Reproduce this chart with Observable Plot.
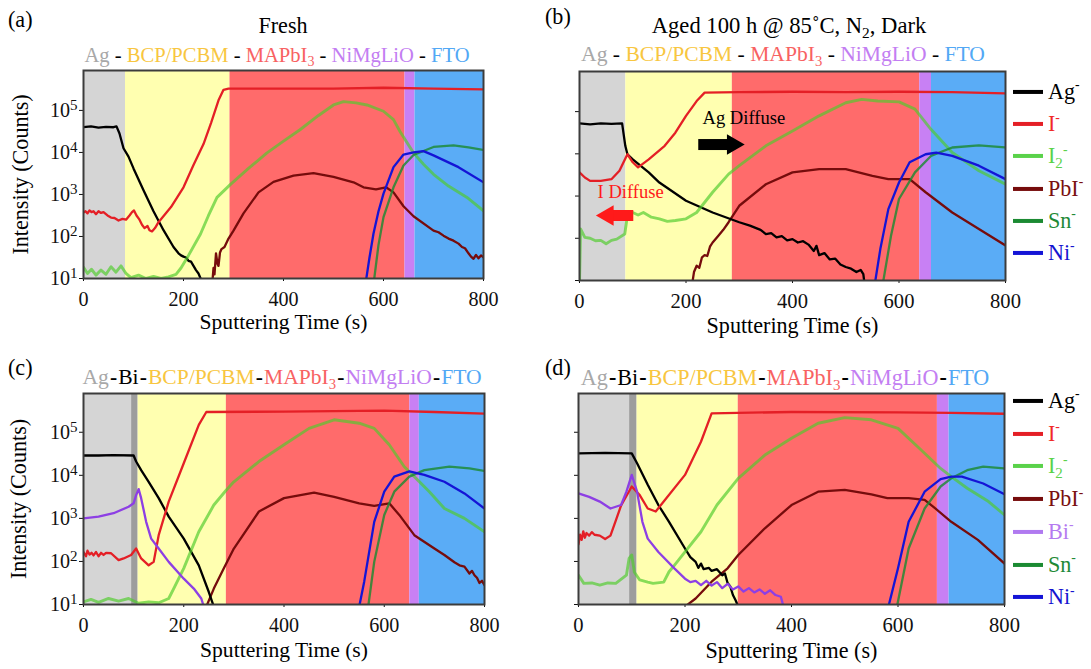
<!DOCTYPE html>
<html><head><meta charset="utf-8">
<script src="https://cdn.jsdelivr.net/npm/d3@7"></script>
<script src="https://cdn.jsdelivr.net/npm/@observablehq/plot@0.6"></script>
<style>
html,body{margin:0;padding:0;background:#fff;}
#root{position:relative;width:1091px;height:669px;overflow:hidden;color:#000;}
.t{position:absolute;white-space:nowrap;line-height:1;}
.p{position:absolute;}
.p svg{overflow:visible;}
sup.m{font-size:0.62em;vertical-align:0;position:relative;top:-0.7em;}
sub.s{font-size:0.68em;vertical-align:0;position:relative;top:0.32em;}
.lg{position:absolute;left:1013px;display:flex;align-items:center;line-height:1;white-space:nowrap;transform:translateY(-50%);}
.lg .ln{width:30px;height:4px;margin-right:5px;flex:none;}
.dash{color:#000;}
</style></head>
<body><div id="root"></div>
<script>
// ---------- data: sputtering time (s), log10(intensity counts) ----------
const xTicks = [0, 200, 400, 600, 800];
const yTicks = [1e1, 1e2, 1e3, 1e4, 1e5];

// layer bands [layer, start (s), end (s)]
const layersA = [["Ag",0,84],["BCP",84,293],["MAP",293,643],["NiO",643,663],["FTO",663,800]];
const layersB = [["Ag",0,87],["BCP",87,287],["MAP",287,639],["NiO",639,661],["FTO",661,800]];
const layersC = [["Ag",0,96],["Bi",96,109],["BCP",109,285],["MAP",285,651],["NiO",651,670],["FTO",670,800]];
const layersD = [["Ag",0,96],["Bi",96,110],["BCP",110,300],["MAP",300,674],["NiO",674,696],["FTO",696,800]];

// (a) Fresh
const aAg = [[0,4.6],[15,4.62],[30,4.59],[45,4.61],[60,4.6],[66,4.62],[72,4.45],[80,4.1],[90,3.9],[100,3.62],[120,3.1],[140,2.6],[160,2.15],[180,1.75],[190,1.6],[195,1.55],[200,1.52],[205,1.5],[210,1.42],[215,1.4],[220,1.3],[225,1.2],[230,1.12],[236,0.95]];
const aI = [[0,2.57],[4,2.6],[8,2.55],[12,2.62],[16,2.58],[20,2.6],[25,2.53],[30,2.6],[35,2.56],[40,2.58],[48,2.5],[55,2.45],[62,2.44],[70,2.38],[78,2.42],[85,2.4],[92,2.5],[97,2.58],[101,2.62],[106,2.5],[112,2.4],[117,2.28],[122,2.2],[128,2.25],[132,2.15],[137,2.12],[143,2.2],[150,2.34],[175,2.7],[200,3.17],[220,3.7],[240,4.2],[255,4.7],[270,5.24],[280,5.49],[290,5.52],[400,5.52],[500,5.52],[600,5.54],[700,5.52],[800,5.5]];
const aI2 = [[0,1.27],[8,1.12],[16,1.22],[25,1.08],[35,1.2],[45,1.1],[55,1.28],[65,1.15],[75,1.3],[85,1.12],[95,1.02],[110,1.08],[125,1.0],[140,1.05],[155,1.0],[170,1.04],[185,1.1],[195,1.25],[210,1.55],[234,2.06],[250,2.5],[267,2.93],[294,3.24],[330,3.62],[367,3.99],[400,4.27],[433,4.54],[470,4.88],[500,5.13],[520,5.21],[545,5.18],[567,5.13],[600,4.98],[620,4.78],[633,4.5],[660,3.99],[680,3.72],[700,3.48],[730,3.2],[767,2.93],[800,2.61]];
const aPbI = [[258,0.95],[260,1.25],[262,1.1],[265,1.6],[268,1.35],[270,1.3],[273,1.62],[276,1.7],[282,1.75],[290,1.95],[300,2.14],[320,2.55],[350,3.05],[380,3.3],[420,3.45],[460,3.51],[500,3.42],[540,3.29],[560,3.17],[585,3.12],[605,3.17],[620,3.05],[640,2.72],[660,2.48],[700,2.14],[710,2.1],[720,2.02],[730,1.95],[740,1.9],[750,1.83],[757,1.75],[763,1.72],[770,1.6],[775,1.52],[780,1.47],[785,1.56],[790,1.48],[795,1.55],[800,1.5]];
const aNi = [[565,0.95],[572,1.5],[580,2.07],[590,2.6],[600,3.02],[620,3.65],[640,3.95],[660,4.0],[680,4.03],[700,3.93],[750,3.65],[800,3.29]];
const aSn = [[581,0.95],[590,1.8],[600,2.46],[620,3.17],[640,3.69],[660,3.94],[700,4.13],[740,4.17],[770,4.12],[800,4.06]];

// (b) Aged 100 h
const bAg = [[0,4.72],[20,4.7],[40,4.72],[60,4.71],[80,4.72],[86,4.19],[90,3.99],[100,3.87],[130,3.56],[150,3.32],[200,2.89],[250,2.61],[300,2.38],[320,2.3],[340,2.2],[350,2.1],[360,2.12],[370,2.02],[380,2.05],[390,1.95],[400,1.98],[410,1.9],[420,1.93],[430,1.85],[440,1.7],[445,1.82],[450,1.6],[460,1.65],[470,1.5],[480,1.52],[490,1.38],[500,1.32],[510,1.28],[520,1.2],[528,1.25],[533,1.15],[535,0.95]];
const bI = [[0,3.56],[10,3.44],[20,3.36],[40,3.36],[60,3.4],[75,3.6],[90,3.99],[100,3.8],[110,3.68],[130,3.87],[160,4.19],[180,4.5],[200,4.9],[220,5.25],[235,5.45],[300,5.46],[400,5.47],[500,5.46],[600,5.47],[700,5.46],[800,5.43]];
const bI2 = [[0,0.95],[2,2.22],[10,2.02],[20,2.0],[30,1.94],[40,1.95],[50,1.87],[60,1.95],[70,1.98],[85,2.1],[90,2.54],[100,2.61],[110,2.55],[120,2.61],[135,2.5],[150,2.46],[165,2.4],[180,2.42],[200,2.46],[220,2.61],[250,3.09],[280,3.52],[300,3.72],[350,4.19],[400,4.54],[450,4.9],[500,5.21],[530,5.29],[560,5.25],[600,5.23],[630,5.06],[660,4.58],[700,4.03],[750,3.6],[800,3.28]];
const bPbI = [[212,0.95],[215,1.2],[220,1.35],[225,1.3],[230,1.55],[235,1.6],[240,1.58],[245,1.8],[250,1.9],[260,2.05],[270,2.2],[280,2.38],[300,2.77],[350,3.28],[400,3.56],[450,3.64],[500,3.64],[550,3.48],[580,3.4],[620,3.4],[650,3.09],[700,2.61],[750,2.22],[800,1.83]];
const bNi = [[555,0.95],[565,1.75],[580,2.69],[600,3.32],[620,3.8],[650,3.99],[670,4.03],[700,3.95],[750,3.72],[800,3.4]];
const bSn = [[570,0.95],[585,2.06],[600,2.93],[630,3.56],[660,3.95],[700,4.15],[750,4.2],[800,4.15]];
const bNotes = [{t:231, v:4.84, label:"Ag Diffuse", color:"#000000"},{t:34, v:3.09, label:"I Diffuse", color:"#ff1a1a"}];
const bArrows = [{from:223, to:281, head:288, v:4.22, color:"#000000"},{from:101, to:60, head:53, v:2.54, color:"#ff1a1a"}];

// (c) Bi interlayer, fresh
const cAg = [[0,4.46],[30,4.46],[60,4.47],[100,4.46],[105,4.32],[115,4.12],[130,3.85],[150,3.47],[170,3.04],[200,2.53],[230,1.91],[250,1.29],[260,0.95]];
const cBi = [[0,3.0],[30,3.04],[60,3.12],[90,3.27],[100,3.35],[105,3.54],[110,3.68],[115,3.47],[125,2.92],[135,2.53],[150,2.3],[170,1.99],[200,1.6],[220,1.37],[235,1.14],[240,0.95]];
const cI = [[0,2.22],[5,2.12],[8,2.25],[12,2.16],[16,2.2],[20,2.14],[25,2.22],[30,2.12],[35,2.2],[40,2.15],[45,2.2],[55,2.19],[70,2.03],[80,2.07],[95,2.15],[105,2.3],[115,2.07],[130,1.91],[140,1.99],[150,2.61],[170,3.39],[200,4.28],[230,5.17],[245,5.47],[400,5.48],[600,5.5],[700,5.47],[800,5.43]];
const cI2 = [[0,1.06],[15,1.12],[30,1.05],[50,1.14],[70,1.08],[90,1.14],[110,1.03],[130,1.06],[150,1.04],[170,1.14],[180,1.37],[200,1.84],[230,2.69],[260,3.31],[285,3.66],[300,3.85],[350,4.32],[400,4.71],[450,5.09],[500,5.29],[550,5.21],[580,5.09],[610,4.71],[640,4.2],[660,3.97],[690,3.62],[720,3.23],[760,3.0],[800,2.69]];
const cPbI = [[245,0.95],[260,1.37],[280,1.84],[300,2.3],[350,3.16],[400,3.47],[460,3.6],[500,3.5],[550,3.35],[580,3.29],[610,3.35],[630,3.08],[660,2.61],[700,2.3],[720,2.15],[740,1.98],[750,1.91],[760,1.88],[770,1.72],[775,1.78],[780,1.68],[785,1.62],[790,1.5],[795,1.55],[800,1.45]];
const cNi = [[550,0.95],[560,1.53],[580,2.92],[600,3.62],[620,3.97],[650,4.09],[680,4.01],[720,3.85],[760,3.58],[800,3.23]];
const cSn = [[568,0.95],[580,1.99],[600,3.08],[620,3.62],[650,3.97],[680,4.12],[730,4.2],[770,4.16],[800,4.1]];

// (d) Bi interlayer, aged
const dAg = [[0,4.51],[50,4.52],[100,4.51],[110,4.28],[130,3.78],[150,3.31],[170,2.92],[200,2.3],[210,2.1],[220,1.99],[225,1.85],[230,1.95],[235,1.82],[245,1.85],[250,1.78],[260,1.82],[270,1.68],[275,1.72],[280,1.5],[285,1.42],[290,1.22],[295,1.1],[300,0.95]];
const dBi = [[0,3.58],[20,3.5],[40,3.39],[60,3.23],[80,3.31],[90,3.62],[100,4.01],[110,3.62],[120,2.92],[130,2.53],[150,2.22],[180,1.84],[200,1.6],[210,1.52],[220,1.55],[230,1.45],[240,1.55],[250,1.44],[260,1.52],[270,1.38],[280,1.48],[290,1.35],[300,1.42],[310,1.3],[320,1.38],[330,1.28],[340,1.35],[350,1.25],[360,1.33],[370,1.22],[380,1.18],[385,0.95]];
const dI = [[0,2.4],[3,2.62],[6,2.5],[9,2.7],[12,2.55],[15,2.66],[20,2.6],[25,2.68],[30,2.62],[40,2.6],[50,2.52],[60,2.6],[70,2.95],[80,3.3],[100,3.74],[115,3.54],[130,3.23],[145,3.16],[160,3.39],[200,4.01],[230,4.78],[250,5.44],[400,5.47],[600,5.46],[700,5.45],[800,5.43]];
const dI2 = [[0,1.68],[10,1.49],[25,1.5],[40,1.45],[55,1.5],[70,1.49],[90,1.68],[95,2.07],[100,2.15],[105,1.75],[115,1.57],[130,1.52],[140,1.49],[160,1.52],[170,1.76],[180,1.91],[200,2.22],[230,2.69],[260,3.31],[300,3.93],[350,4.47],[400,4.86],[450,5.21],[500,5.34],[550,5.29],[600,5.09],[640,4.63],[680,4.16],[700,3.97],[730,3.7],[770,3.39],[800,3.08]];
const dPbI = [[200,0.95],[220,1.14],[250,1.53],[280,1.84],[300,2.15],[350,2.77],[400,3.31],[450,3.62],[500,3.66],[550,3.56],[580,3.47],[620,3.47],[650,3.43],[670,3.23],[700,2.92],[750,2.5],[800,1.95]];
const dNi = [[582,0.95],[600,1.84],[620,2.92],[650,3.62],[680,3.91],[700,3.97],[720,3.97],[760,3.81],[800,3.56]];
const dSn = [[598,0.95],[620,2.3],[650,3.23],[680,3.74],[700,3.93],[730,4.12],[760,4.2],[800,4.16]];

// text
const layerNamesAB = ["Ag","BCP/PCBM","MAPbI<sub class='s'>3</sub>","NiMgLiO","FTO"];
const layerNamesCD = ["Ag","Bi","BCP/PCBM","MAPbI<sub class='s'>3</sub>","NiMgLiO","FTO"];
const legendB = ["Ag","I","I2","PbI","Sn","Ni"];
const legendD = ["Ag","I","I2","PbI","Bi","Sn","Ni"];

// ---------- styles ----------
const layerColors = {Ag:"#d5d5d5", Bi:"#9d9d9d", BCP:"#ffffb0", MAP:"#ff6b6b", NiO:"#c880f4", FTO:"#5aacf6"};
const layerTextColors = {"Ag":"#a8a8a8","Bi":"#000","BCP/PCBM":"#f8c640","MAPbI<sub class='s'>3</sub>":"#f86262","NiMgLiO":"#c37ef2","FTO":"#52a8f5"};
const lineColors = {Ag:"#000000", I:"#e41f26", I2:"#50cc2c", PbI:"#760c0c", Bi:"#8d3fe4", Sn:"#1b8a32", Ni:"#1414d6"};
const legendLineColors = {Ag:"#000000", I:"#e41f26", I2:"#5ad24a", PbI:"#760c0c", Bi:"#b07af0", Sn:"#1b8a32", Ni:"#1414d6"};
const lineWidths = {I2:2.9};
const lineOpacity = {I2:0.68, Sn:0.82};
const legendTextColors = {Ag:"#000", I:"#f02828", I2:"#5ad24a", PbI:"#7a1010", Bi:"#b57af0", Sn:"#1f8a36", Ni:"#1414d0"};
const legendLabels = {Ag:"Ag<sup class='m'>-</sup>", I:"I<sup class='m'>-</sup>", I2:"I<sub class='s'>2</sub><sup class='m'>-</sup>", PbI:"PbI<sup class='m'>-</sup>", Bi:"Bi<sup class='m'>-</sup>", Sn:"Sn<sup class='m'>-</sup>", Ni:"Ni<sup class='m'>-</sup>"};

// pick an installed Times-like face and a size factor that matches Times metrics
const measureCtx = document.createElement("canvas").getContext("2d");
function widthOf(font, s) { measureCtx.font = "100px " + font; return measureCtx.measureText(s).width; }
function pickFont() {
  const cands = ['"Liberation Serif"', 'Tinos', '"Times New Roman"', 'Times', '"Nimbus Roman"', '"DejaVu Serif Condensed"', '"DejaVu Serif"'];
  const s = "Sputtering Time (s) MAPbI NiMgLiO 0123";
  for (const f of cands) {
    if (Math.abs(widthOf(f + ", monospace", s) - widthOf(f + ", sans-serif", s)) < 0.5) return f;
  }
  return "serif";
}
const FACE = pickFont();
const FONT = FACE + ', serif';
const K = Math.max(0.78, Math.min(1.1, 783.3 / widthOf(FONT, "Sputtering Time (s)")));
document.getElementById("root").style.fontFamily = FONT;

const root = document.getElementById("root");

function txt(html, x, y, size, anchor = "middle", color = "#000") {
  const d = document.createElement("div");
  d.className = "t";
  d.style.left = x + "px"; d.style.top = y + "px";
  d.style.fontSize = (size * K) + "px"; d.style.color = color;
  d.style.fontFamily = FONT;
  const tx = anchor === "middle" ? -50 : anchor === "end" ? -100 : 0;
  d.style.transform = `translate(${tx}%,-50%)`;
  d.innerHTML = html;
  root.appendChild(d);
}

function layerRow(names, cx, y, size, sep) {
  const html = names.map(n => `<span style="color:${layerTextColors[n]}">${n}</span>`).join(`<span class="dash">${sep}</span>`);
  txt(html, cx, y, size);
}

function legend(keys, y0, step, size) {
  keys.forEach((k, i) => {
    const d = document.createElement("div");
    d.className = "lg";
    d.style.top = (y0 + i * step) + "px";
    d.style.fontSize = (size * K) + "px";
    d.style.fontFamily = FONT;
    d.innerHTML = `<span class="ln" style="background:${legendLineColors[k]}"></span><span style="color:${legendTextColors[k]}">${legendLabels[k]}</span>`;
    root.appendChild(d);
  });
}

function fixTexts(svg) {
  const ns = "http://www.w3.org/2000/svg";
  svg.querySelectorAll("text").forEach(t => {
    t.style.fontFamily = FONT;
    const s = t.textContent;
    if (!/^10\^\d$/.test(s)) return;
    const [b, e] = s.split("^");
    t.textContent = "";
    const t1 = document.createElementNS(ns, "tspan"); t1.textContent = b;
    const t2 = document.createElementNS(ns, "tspan"); t2.setAttribute("dy", "-0.45em"); t2.setAttribute("font-size", "0.75em"); t2.textContent = e;
    t.append(t1, t2);
  });
}

function panel(cfg) {
  const ymax = Math.pow(10, cfg.ymaxExp);
  const fs = cfg.fs * K;
  const marks = [
    Plot.rect(cfg.layers, {x1: d => d[1], x2: d => d[2], y1: () => 10, y2: () => ymax, fill: d => layerColors[d[0]]})
  ];
  cfg.series.forEach(([k, data]) => {
    marks.push(Plot.line(data, {x: d => d[0], y: d => Math.pow(10, d[1]), stroke: lineColors[k], strokeWidth: lineWidths[k] ?? 2.3, strokeOpacity: lineOpacity[k] ?? 1, clip: true}));
  });
  if (cfg.extra) marks.push(...cfg.extra(ymax));
  marks.push(Plot.frame({stroke: "#3c3c3c", strokeWidth: 2}));
  if (cfg.ylabDx != null) marks.push(Plot.text(["Intensity (Counts)"], {text: d => d, frameAnchor: "left", dx: cfg.ylabDx, rotate: -90, fontSize: 22 * K, textAnchor: "middle", fill: "#000", fontFamily: FONT}));
  marks.push(Plot.text(["Sputtering Time (s)"], {text: d => d, frameAnchor: "bottom", dy: cfg.xlabDy, fontSize: cfg.xfs * K, textAnchor: "middle", fill: "#000", fontFamily: FONT}));
  const svg = Plot.plot({
    width: cfg.width, height: cfg.height,
    marginLeft: cfg.ml, marginRight: cfg.mr, marginTop: cfg.mt, marginBottom: cfg.mb,
    x: {domain: [0, 800], ticks: xTicks, tickSize: 3, tickPadding: 10, label: null, tickFormat: d => String(d)},
    y: {type: "log", domain: [10, ymax], ticks: yTicks, tickSize: 4, tickPadding: 2, label: null,
        tickFormat: cfg.yLabels ? d => "10^" + Math.round(Math.log10(d)) : () => ""},
    color: {type: "identity"},
    style: {fontFamily: FONT, fontSize: fs + "px", background: "transparent", color: "#111", overflow: "visible"},
    marks
  });
  fixTexts(svg);
  const wrap = document.createElement("div");
  wrap.className = "p";
  wrap.style.left = cfg.left + "px"; wrap.style.top = cfg.top + "px";
  wrap.style.width = cfg.width + "px"; wrap.style.height = cfg.height + "px";
  wrap.appendChild(svg);
  root.appendChild(wrap);
}

function arrowMarks(ymax) {
  const m = [];
  bArrows.forEach(a => {
    m.push(Plot.link([a], {x1: d => d.from, x2: d => d.to, y1: d => Math.pow(10, d.v), y2: d => Math.pow(10, d.v), stroke: a.color, strokeWidth: 11, strokeLinecap: "butt"}));
    m.push(Plot.dot([a], {x: d => d.head, y: d => Math.pow(10, d.v), symbol: "triangle", r: 7.6, fill: a.color, stroke: "none", rotate: a.to > a.from ? 90 : -90}));
  });
  m.push(Plot.text(bNotes, {x: "t", y: d => Math.pow(10, d.v), text: "label", fill: "color", textAnchor: "start", fontSize: 18.5 * K, fontFamily: FONT}));
  return m;
}

// panels
panel({left: 0, top: 60, width: 500, height: 280, ml: 83, mr: 17, mt: 10, mb: 62, ymaxExp: 5.95, fs: 20, xfs: 21.5,
  layers: layersA, yLabels: true, ylabDx: -63, xlabDy: 50,
  series: [["PbI", aPbI], ["Ag", aAg], ["I", aI], ["I2", aI2], ["Sn", aSn], ["Ni", aNi]]});
panel({left: 495, top: 61, width: 515, height: 272, ml: 84, mr: 5, mt: 10, mb: 53, ymaxExp: 5.95, fs: 20.5, xfs: 22,
  layers: layersB, yLabels: false, xlabDy: 52, extra: arrowMarks,
  series: [["PbI", bPbI], ["Ag", bAg], ["I", bI], ["I2", bI2], ["Sn", bSn], ["Ni", bNi]]});
panel({left: 0, top: 383, width: 500, height: 286, ml: 83, mr: 16, mt: 10, mb: 65, ymaxExp: 5.9, fs: 20, xfs: 21.5,
  layers: layersC, yLabels: true, ylabDx: -65, xlabDy: 52,
  series: [["PbI", cPbI], ["Ag", cAg], ["I", cI], ["I2", cI2], ["Bi", cBi], ["Sn", cSn], ["Ni", cNi]]});
panel({left: 495, top: 383, width: 515, height: 286, ml: 83, mr: 6, mt: 10, mb: 65, ymaxExp: 5.9, fs: 20.5, xfs: 22,
  layers: layersD, yLabels: false, xlabDy: 53,
  series: [["PbI", dPbI], ["Ag", dAg], ["I", dI], ["I2", dI2], ["Bi", dBi], ["Sn", dSn], ["Ni", dNi]]});

// headings
txt("(a)", 8, 20, 22, "start");
txt("(b)", 545, 17, 22, "start");
txt("(c)", 8, 368, 22, "start");
txt("(d)", 545, 368, 22, "start");
txt("Fresh", 283, 26, 22);
txt("Aged 100 h @ 85˚C, N<sub class='s'>2</sub>, Dark", 789, 26, 22.5);
layerRow(layerNamesAB, 277, 55, 20.5, " - ");
layerRow(layerNamesAB, 783, 55, 21.5, " - ");
layerRow(layerNamesCD, 282, 378, 21.5, "<b style='margin:0 0.05em'>-</b>");
layerRow(layerNamesCD, 785, 378, 22, "<b style='margin:0 0.05em'>-</b>");
legend(legendB, 92, 32.2, 22);
legend(legendD, 401, 32.7, 22);
</script></body></html>
